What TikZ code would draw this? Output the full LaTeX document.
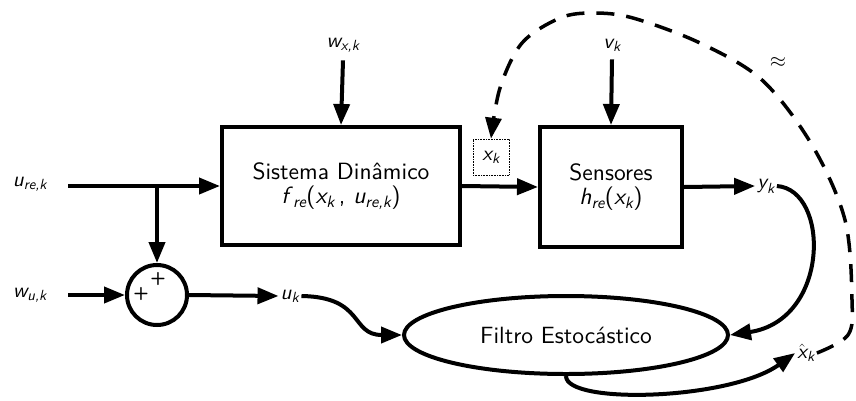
\documentclass[tikz,border=0pt]{standalone}
\usepackage{amsmath}
\usepackage{fontspec}
\setmainfont{lmsans10-regular.otf}[ItalicFont=lmsans10-oblique.otf, BoldFont=lmsans10-bold.otf]
\usetikzlibrary{shapes.geometric,arrows.meta}
\newcommand{\mv}[2]{\ensuremath{\textit{#1}_{\textit{#2}}}}
\begin{document}
\begin{tikzpicture}[x=1pt,y=-1pt,
  font=\fontsize{23.5}{27}\selectfont,
  block/.style={draw, line width=4pt, align=center},
  arr/.style={line width=4pt, -{Triangle[length=21pt,width=16pt]}},
  darr/.style={line width=3.5pt, dash pattern=on 18pt off 12pt, -{Triangle[length=21pt,width=16pt]}},
  lbl/.style={inner sep=2pt, font=\fontsize{21}{24}\selectfont},
  plus/.style={inner sep=0pt, font=\fontsize{18}{20}\selectfont\bfseries}]
\useasboundingbox (0,0) rectangle (856,400);
\node[block, minimum width=238pt, minimum height=118pt] (sys) at (341,186) {Sistema Din\^amico\\[-3pt] \textit{f}$_{\textit{re}}$(\mv{x}{k}\,, \mv{u}{re,k})};
\node[block, minimum width=142pt, minimum height=120pt] (sens) at (611,187) {Sensores\\[-3pt] \textit{h}$_{\textit{re}}$(\mv{x}{k})};
\node[draw, densely dotted, line width=0.6pt, minimum width=36pt, minimum height=36pt, inner sep=0pt, font=\fontsize{21}{24}\selectfont] (xk) at (491,157) {\mv{x}{k}};
\node[lbl] (wx) at (343,45) {\mv{w}{x,k}};
\node[lbl] (vk) at (612,45) {\mv{v}{k}};
\node[lbl] (ure) at (30,184) {\mv{u}{re,k}};
\node[lbl] (wu) at (30,295) {\mv{w}{u,k}};
\node[draw, circle, line width=4pt, minimum size=60pt, inner sep=0pt] (sum) at (157,295) {};
\node[plus] at (158,279) {+};
\node[plus] at (141,294) {+};
\node[lbl] (uk) at (290,296) {\mv{u}{k}};
\node[lbl] (yk) at (766,186) {\mv{y}{k}};
\node[lbl] (xh) at (806,353) {$\hat{\textit{x}}_{\textit{k}}$};
\node[lbl] at (778,62) {$\approx$};
\node[draw, ellipse, line width=4pt, minimum width=324pt, minimum height=78pt] (fil) at (566,335) {Filtro Estoc\'astico};
\coordinate (br) at (157,186);
\coordinate (ures) at (68,186);
\coordinate (wus) at (68,295);
\draw[arr] (ures) -- (sys.west);
\draw[arr] (br) -- (sum.north);
\draw[arr] (wus) -- (sum.west);
\draw[arr] (sum.east) -- (uk.west);
\draw[arr] (wx.south) ++(0,6) -- (sys.north);
\draw[arr] (vk.south) ++(0,6) -- (sens.north);
\draw[arr] (sys.east) -- (sens.west);
\draw[arr] (sens.east) -- (yk.west);
\draw[arr] (uk.east) .. controls (365,297) and (350,335) .. (fil.west);
\draw[arr] (yk.east) .. controls (830,190) and (830,320) .. (fil.east);
\draw[arr] (fil.south) .. controls (566,405) and (730,400) .. (xh.west);
\draw[darr] plot[smooth, tension=0.55] coordinates {(xh.east) (848,335) (852,300) (845,220) (812,145) (762,80) (700,43) (633,18) (593,13) (560,18) (522,43) (500,88) (xk.north)};
\end{tikzpicture}
\end{document}
